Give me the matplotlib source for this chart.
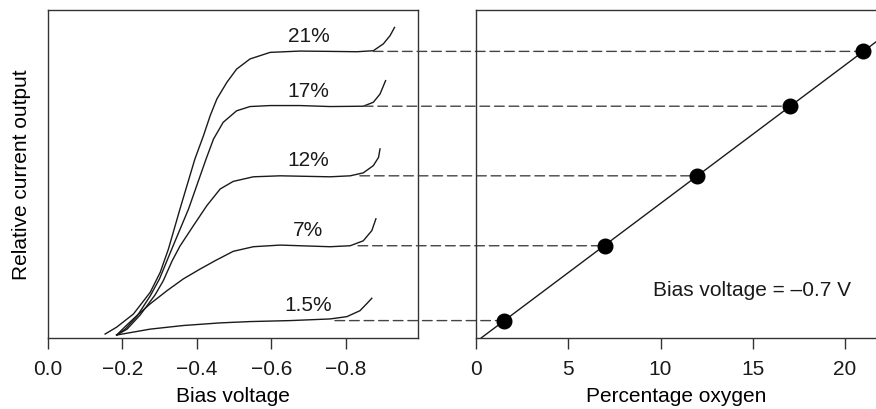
import numpy as np
import matplotlib
matplotlib.use("Agg")
import matplotlib.pyplot as plt
from matplotlib.patches import ConnectionPatch

plt.rcParams['font.family'] = ['Liberation Sans', 'DejaVu Sans']
plt.rcParams['font.size'] = 15

# curvas corrente x tensão de polarização
v_21 = [-0.154, -0.185, -0.230, -0.275, -0.302, -0.324, -0.355, -0.395, -0.418, -0.436, -0.454,
        -0.481, -0.507, -0.543, -0.597, -0.677, -0.758, -0.830, -0.874, -0.901, -0.919, -0.931]
i_21 = [0.012, 0.033, 0.073, 0.139, 0.200, 0.271, 0.393, 0.545, 0.616, 0.677, 0.728,
        0.779, 0.819, 0.850, 0.870, 0.874, 0.873, 0.872, 0.875, 0.896, 0.921, 0.946]

v_17 = [-0.185, -0.208, -0.240, -0.275, -0.300, -0.333, -0.378, -0.425, -0.445, -0.471, -0.507,
        -0.543, -0.597, -0.677, -0.758, -0.847, -0.874, -0.892, -0.907]
i_17 = [0.009, 0.027, 0.067, 0.128, 0.180, 0.271, 0.393, 0.545, 0.606, 0.657, 0.692,
        0.705, 0.708, 0.708, 0.705, 0.706, 0.718, 0.743, 0.784]

v_12 = [-0.185, -0.213, -0.248, -0.288, -0.310, -0.334, -0.355, -0.391, -0.427, -0.463, -0.498,
        -0.552, -0.624, -0.758, -0.812, -0.847, -0.874, -0.888, -0.892]
i_12 = [0.009, 0.027, 0.070, 0.131, 0.174, 0.235, 0.280, 0.342, 0.403, 0.454, 0.477,
        0.491, 0.494, 0.491, 0.494, 0.503, 0.525, 0.550, 0.576]

v_7 = [-0.185, -0.210, -0.239, -0.275, -0.320, -0.364, -0.409, -0.452, -0.498, -0.552, -0.624,
       -0.677, -0.758, -0.812, -0.847, -0.870, -0.881]
i_7 = [0.009, 0.037, 0.068, 0.104, 0.144, 0.180, 0.210, 0.237, 0.264, 0.278, 0.283,
       0.281, 0.278, 0.281, 0.296, 0.327, 0.363]

v_15 = [-0.185, -0.275, -0.364, -0.463, -0.543, -0.651, -0.758, -0.803, -0.838, -0.856, -0.870]
i_15 = [0.009, 0.027, 0.038, 0.046, 0.050, 0.053, 0.058, 0.065, 0.083, 0.104, 0.121]

curvas = [(v_21, i_21), (v_17, i_17), (v_12, i_12), (v_7, i_7), (v_15, i_15)]
rotulos = ["21%", "17%", "12%", "7%", "1.5%"]

# patamar de cada curva e ponto onde começa a linha tracejada
oxigenio = [21, 17, 12, 7, 1.5]
patamar = [0.873, 0.706, 0.494, 0.281, 0.053]
v_inicio = [-0.874, -0.847, -0.838, -0.833, -0.771]
v_rotulo = -0.70

xticks_esq = [0.0, -0.2, -0.4, -0.6, -0.8]
xlabels_esq = ["0.0", "\u22120.2", "\u22120.4", "\u22120.6", "\u22120.8"]
xticks_dir = [0, 5, 10, 15, 20]

cor = "#1a1a1a"

fig = plt.figure(figsize=(8.76, 4.10), dpi=100)
ax1 = fig.add_axes([0.0545, 0.1732, 0.4231, 0.8007])
ax2 = fig.add_axes([0.5434, 0.1732, 0.4566, 0.8007])

for (v, i) in curvas:
    ax1.plot(v, i, color=cor, lw=1.0, solid_joinstyle="round")
for k in range(len(rotulos)):
    ax1.annotate(rotulos[k], (v_rotulo, patamar[k]), xytext=(0, 11.5), textcoords="offset points",
                 ha="center", va="center", color=cor)

ax1.set_xlim(0, -0.995)
ax1.set_ylim(0, 1)
ax1.set_xticks(xticks_esq)
ax1.set_xticklabels(xlabels_esq)
ax1.set_yticks([])
ax1.set_xlabel("Bias voltage", labelpad=6)
ax1.set_ylabel("Relative current output", labelpad=12)

# reta de calibração
coef = np.polyfit(oxigenio, patamar, 1)
x0 = -coef[1] / coef[0]
xr = np.array([x0, 21.68])
ax2.plot(xr, np.polyval(coef, xr), color=cor, lw=1.0)
ax2.plot(oxigenio, patamar, "o", color="black", ms=10.5, zorder=3)
ax2.text(9.6, 0.149, "Bias voltage = \u20130.7 V", ha="left", va="center", color=cor)

ax2.set_xlim(0, 21.68)
ax2.set_ylim(0, 1)
ax2.set_xticks(xticks_dir)
ax2.set_yticks([])
ax2.spines["right"].set_visible(False)
ax2.set_xlabel("Percentage oxygen", labelpad=6)

for ax in (ax1, ax2):
    for s in ax.spines.values():
        s.set_color("#333333")
        s.set_linewidth(1.0)
    ax.tick_params(axis="x", direction="out", length=8, width=1.0, color="#333333", pad=7,
                   labelcolor=cor)

# linhas tracejadas ligando os dois gráficos
for k in range(len(oxigenio)):
    con = ConnectionPatch(xyA=(v_inicio[k], patamar[k]), coordsA=ax1.transData,
                          xyB=(oxigenio[k], patamar[k]), coordsB=ax2.transData,
                          color="#444444", lw=1.0, linestyle=(0, (7, 3.5)), zorder=1)
    con.set_clip_on(False)
    ax2.add_artist(con)

fig.savefig("out.png", dpi=100)
